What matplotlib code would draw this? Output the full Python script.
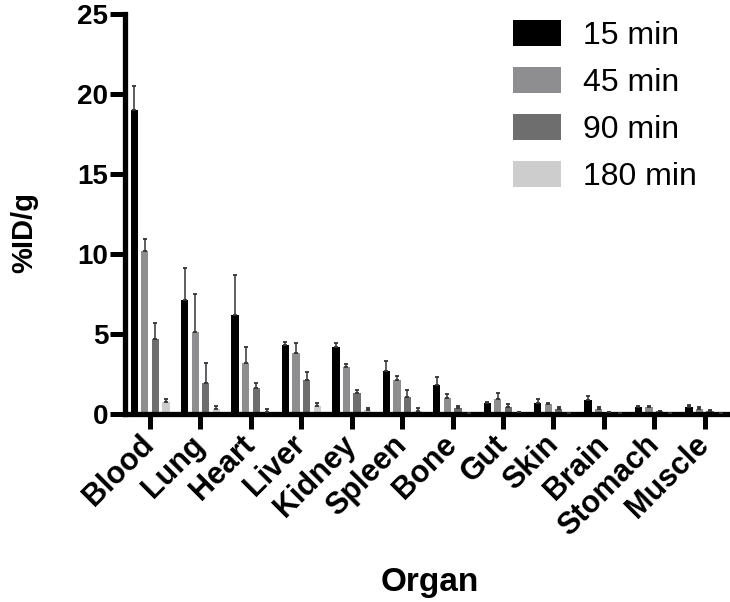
import matplotlib
matplotlib.use("Agg")
import matplotlib.pyplot as plt
import numpy as np

organs = ["Blood", "Lung", "Heart", "Liver", "Kidney", "Spleen", "Bone",
          "Gut", "Skin", "Brain", "Stomach", "Muscle"]
series_labels = ["15 min", "45 min", "90 min", "180 min"]

v15 = [19.0, 7.1, 6.2, 4.3, 4.2, 2.7, 1.8, 0.65, 0.65, 0.85, 0.45, 0.45]
e15 = [1.5, 2.0, 2.5, 0.2, 0.2, 0.6, 0.5, 0.12, 0.25, 0.25, 0.06, 0.1]
v45 = [10.2, 5.1, 3.2, 3.8, 2.9, 2.1, 1.0, 0.95, 0.6, 0.3, 0.4, 0.3]
e45 = [0.7, 2.4, 0.95, 0.65, 0.22, 0.25, 0.25, 0.35, 0.05, 0.15, 0.12, 0.12]
v90 = [4.7, 1.9, 1.6, 2.1, 1.3, 1.05, 0.35, 0.45, 0.3, 0.1, 0.15, 0.15]
e90 = [0.95, 1.3, 0.3, 0.5, 0.2, 0.45, 0.15, 0.15, 0.14, 0.03, 0.03, 0.08]
v180 = [0.75, 0.28, 0.12, 0.5, 0.22, 0.15, 0.05, 0.1, 0.04, 0.04, 0.05, 0.05]
e180 = [0.15, 0.22, 0.2, 0.15, 0.12, 0.2, 0.03, 0.02, 0.02, 0.02, 0.02, 0.02]

values = [v15, v45, v90, v180]
errors = [e15, e45, e90, e180]
colors = ["#000000", "#8e8e90", "#6e6e6e", "#cdcdcd"]

plt.rcParams["font.family"] = ["Liberation Sans", "DejaVu Sans"]

fig = plt.figure(figsize=(7.3, 6.02), dpi=100)
ax = fig.add_axes([0.171, 0.3125, 0.829, 0.6645])

x = np.arange(len(organs))
offsets = [-0.315, -0.105, 0.105, 0.315]
width = 0.145
for vals, errs, col, off, lab in zip(values, errors, colors, offsets, series_labels):
    ax.bar(x + off, vals, width=width, color=col, label=lab, zorder=2)
    ax.errorbar(x + off, vals, yerr=[np.zeros(len(vals)), errs], fmt="none",
                ecolor="#333333", elinewidth=1.1, capsize=1.6, capthick=1.3, zorder=3)

ax.set_xlim(-0.5, 11.5)
ax.set_ylim(0, 25)
ax.set_yticks([0, 5, 10, 15, 20, 25])
ax.set_xticks(x)
ax.set_xticklabels(organs, rotation=45, ha="right", va="center",
                   rotation_mode="anchor", fontsize=22, fontweight="bold")
for t in ax.get_yticklabels():
    t.set_fontsize(20)
    t.set_fontweight("bold")

for s in ["top", "right"]:
    ax.spines[s].set_visible(False)
for s in ["left", "bottom"]:
    ax.spines[s].set_linewidth(3.8)
ax.tick_params(axis="both", length=11, width=3.6, direction="out")
ax.tick_params(axis="y", pad=1)
ax.tick_params(axis="x", pad=8)

ax.set_ylabel("%ID/g", fontsize=21, fontweight="bold")
ax.yaxis.set_label_coords(24 / 730, 1 - 232 / 602, transform=fig.transFigure)
ax.set_xlabel("Organ", fontsize=24, fontweight="bold")
ax.xaxis.set_label_coords(430 / 730, 1 - 582 / 602, transform=fig.transFigure)
ax.xaxis.label.set_va("center")
ax.yaxis.label.set_va("center")

leg = ax.legend(loc="upper left", bbox_to_anchor=(513 / 730, 1 - 20 / 602),
                bbox_transform=fig.transFigure, frameon=False, fontsize=23,
                handlelength=1.5, handleheight=0.875, handletextpad=0.7,
                labelspacing=0.5, borderpad=0, borderaxespad=0)

fig.savefig("out.png", dpi=100)
